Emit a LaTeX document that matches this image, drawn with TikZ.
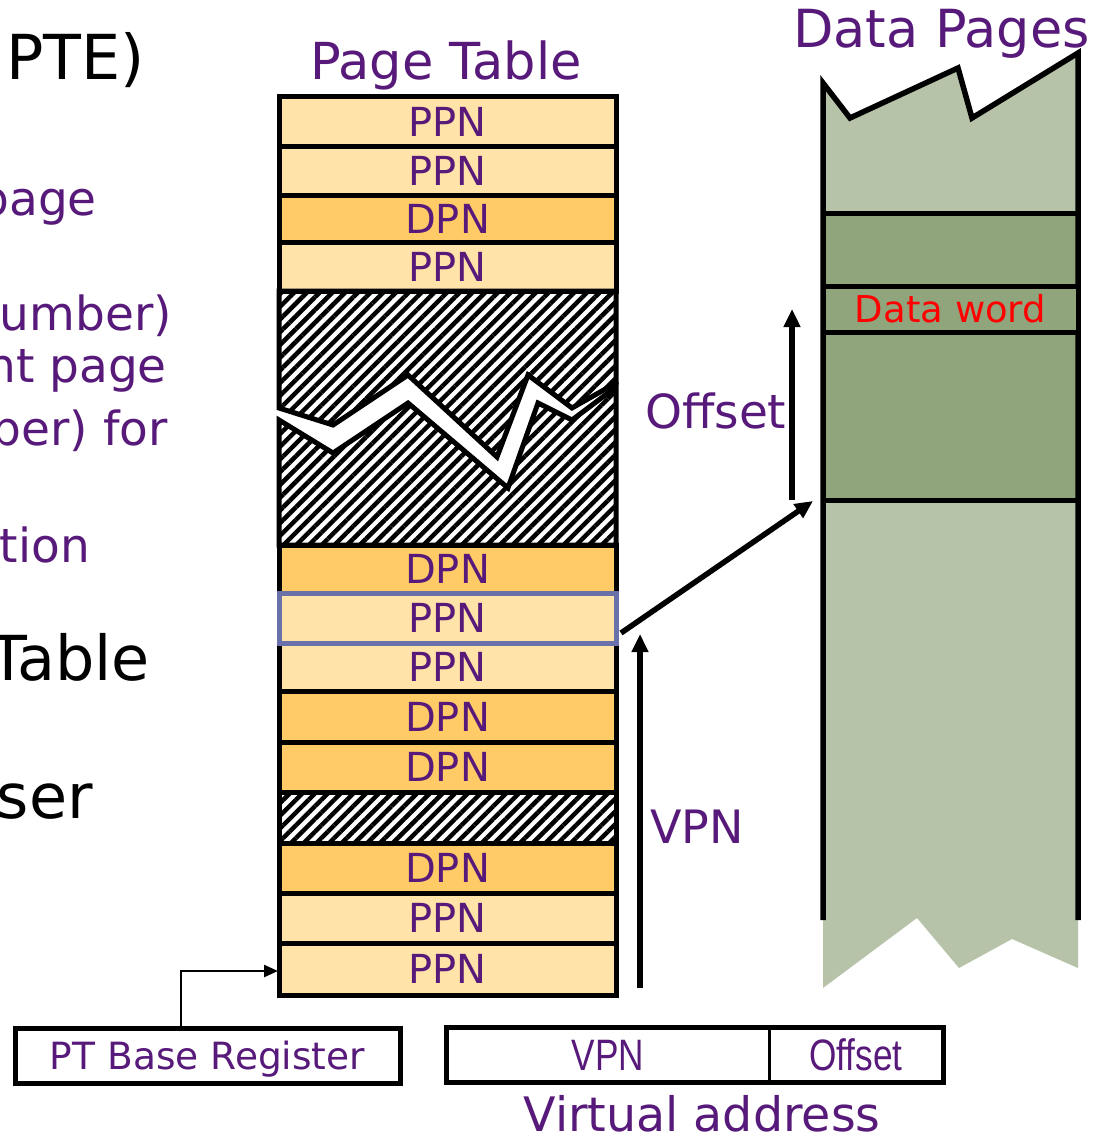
\documentclass[tikz,border=0pt]{standalone}
\usepackage{fontspec}
\setmainfont{DejaVu Sans}
\newfontfamily\narrowfont{Liberation Sans}[FakeStretch=0.8]
\usetikzlibrary{arrows.meta,patterns.meta}
\definecolor{ptpurple}{HTML}{581A7A}
\definecolor{dpnorange}{HTML}{FECB66}
\definecolor{ppnorange}{HTML}{FFE3A8}
\definecolor{pagegreen}{HTML}{91A57C}
\definecolor{dotgreen}{HTML}{B6C3A8}
\definecolor{selblue}{HTML}{6A70AA}
\newcommand{\fsz}[1]{\fontsize{#1}{#1}\selectfont}
\begin{document}
\begin{tikzpicture}[x=1pt,y=-1pt,
  rowbox/.style={draw=black,line width=5pt,minimum width=337pt,inner sep=0pt,text=ptpurple,font=\fsz{40}},
  ppnrow/.style={rowbox,fill=ppnorange},
  dpnrow/.style={rowbox,fill=dpnorange},
  hatchrow/.style={rowbox,pattern={Lines[angle=45,distance=9pt,line width=4.5pt]}},
  hatchfill/.style={draw=black,line width=5pt,pattern={Lines[angle=45,distance=9pt,line width=4.5pt]}},
  bigarrow/.style={line width=5.5pt,-{Triangle[width=16pt,length=18pt]}},
  thinarrow/.style={line width=2.5pt,-{Triangle[width=12pt,length=14pt]}},
  purpletext/.style={text=ptpurple,inner sep=0pt},
  sidetext/.style={text=ptpurple,inner sep=0pt,anchor=base east,font=\fsz{47}},
  sideblack/.style={text=black,inner sep=0pt,anchor=base east,font=\fsz{62}},
  regbox/.style={draw=black,line width=5pt,inner sep=0pt,text=ptpurple}
]
\useasboundingbox (0,0) rectangle (1109,1134);
\clip (0,0) rectangle (1109,1134);

% left, cut-off slide text
\node[sideblack] (t1) at (145,80) {PTE)};
\node[sidetext] (t2) at (97,215) {page};
\node[sidetext] (t3) at (172,330) {umber)};
\node[sidetext] (t4) at (167,382) {nt page};
\node[sidetext] (t5) at (168,445) {ber) for};
\node[sidetext] (t6) at (90,562) {tion};
\node[sideblack] (t7) at (150,680) {Table};
\node[sideblack] (t8) at (93,818) {ser};

% titles
\node[purpletext,anchor=base,font=\fsz{51}] (pttitle) at (446,80) {Page Table};
\node[purpletext,anchor=base west,font=\fsz{52.5}] (dptitle) at (793,48) {Data Pages};

% page table rows
\node[ppnrow,minimum height=50pt] (r1) at (447.5,122) {PPN};
\node[ppnrow,minimum height=48pt] (r2) at (447.5,171) {PPN};
\node[dpnrow,minimum height=47pt] (r3) at (447.5,218.5) {DPN};
\node[ppnrow,minimum height=49pt] (r4) at (447.5,266.5) {PPN};
\draw[hatchfill] (279,291) -- (616,291) -- (616,383) -- (572,408) -- (528,375) -- (497,457) -- (408,375) -- (333,425) -- (279,408) -- cycle;
\draw[hatchfill] (279,420) -- (333,453) -- (408,403) -- (508,488) -- (538,403) -- (572,420) -- (616,387) -- (616,545) -- (279,545) -- cycle;
\node[dpnrow,minimum height=48pt] (r5) at (447.5,569) {DPN};
\node[ppnrow,minimum height=48pt] (r7) at (447.5,667) {PPN};
\node[dpnrow,minimum height=51pt] (r8) at (447.5,716.5) {DPN};
\node[dpnrow,minimum height=50pt] (r9) at (447.5,767) {DPN};
\node[hatchrow,minimum height=51pt] (r10) at (447.5,817.5) {};
\node[dpnrow,minimum height=50pt] (r11) at (447.5,868) {DPN};
\node[ppnrow,minimum height=50pt] (r12) at (447.5,918) {PPN};
\node[ppnrow,minimum height=52pt] (r13) at (447.5,969) {PPN};
\node[ppnrow,draw=selblue,line width=5pt,minimum height=50pt] (r6) at (447.5,618) {PPN};

% data pages
\fill[dotgreen] (823,83) -- (850,118) -- (958,68) -- (972,118) -- (1078,53) -- (1078,968) -- (1012,939) -- (959,968) -- (917,918) -- (823,988) -- cycle;
\fill[pagegreen] (823,213) rectangle (1078,500);
\draw[line width=5.5pt] (823,920) -- (823,83) -- (850,118) -- (958,68) -- (972,118) -- (1078,53) -- (1078,920);
\draw[line width=5pt] (823,213) -- (1078,213);
\draw[line width=5pt] (823,500) -- (1078,500);
\node[draw=black,line width=5pt,fill=pagegreen,minimum width=255pt,minimum height=46pt,inner sep=0pt,text=red,font=\fsz{37}] (dword) at (950.5,309) {Data word};

% labels
\node[purpletext,anchor=base west,font=\fsz{47}] (offlabel) at (645,428) {Offset};
\node[purpletext,anchor=base west,font=\fsz{46}] (vpnlabel) at (650,843) {VPN};

% registers
\node[regbox,minimum width=385pt,minimum height=55pt,text depth=0pt,font=\fsz{37.5}] (ptb) at (207.5,1055.5) {PT Base Register};
\node[inner sep=0pt,minimum width=322pt,minimum height=54pt,text=ptpurple,font=\narrowfont\fsz{44}] (vavpn) at (608,1055) {VPN};
\node[inner sep=0pt,minimum width=174pt,minimum height=54pt,text=ptpurple,font=\narrowfont\fsz{44}] (vaoff) at (856,1055) {Offset};
\draw[line width=5pt] (vavpn.north west) rectangle (vaoff.south east);
\draw[line width=3pt] (vavpn.north east) -- (vavpn.south east);
\node[purpletext,anchor=base,font=\fsz{47.5}] (valabel) at (702,1131) {Virtual address};

% connectors
\coordinate (ptbtap) at (181,1028);
\coordinate (r13in) at (278,971);
\draw[thinarrow] (ptbtap) |- (r13in);
\coordinate (vpnfoot) at (640,988);
\coordinate (vpnhead) at (640,634);
\draw[bigarrow] (vpnfoot) -- (vpnhead);
\coordinate (selout) at (621,633);
\coordinate (pagebase) at (813,501);
\draw[bigarrow] (selout) -- (pagebase);
\coordinate (offfoot) at (792,500);
\coordinate (offhead) at (792,309);
\draw[bigarrow] (offfoot) -- (offhead);
\end{tikzpicture}
\end{document}
